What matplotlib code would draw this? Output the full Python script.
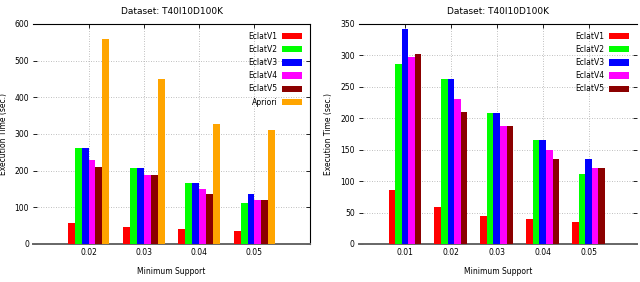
import numpy as np
import matplotlib
matplotlib.use("Agg")
import matplotlib.pyplot as plt

# Datos izquierda (con Apriori)
soporte_izq = ["0.02", "0.03", "0.04", "0.05"]
eclat1_izq = [58, 45, 40, 35]
eclat2_izq = [263, 208, 165, 112]
eclat3_izq = [262, 208, 165, 135]
eclat4_izq = [230, 187, 150, 120]
eclat5_izq = [210, 188, 135, 120]
apriori_izq = [560, 450, 328, 310]

# Datos derecha (solo Eclat)
soporte_der = ["0.01", "0.02", "0.03", "0.04", "0.05"]
eclat1_der = [86, 58, 45, 39, 35]
eclat2_der = [286, 263, 208, 165, 112]
eclat3_der = [342, 262, 208, 165, 135]
eclat4_der = [297, 230, 187, 150, 121]
eclat5_der = [302, 210, 188, 135, 121]

colores = ["#ff0000", "#00ff00", "#0000ff", "#ff00ff", "#8b0000", "#ffa500"]
etiquetas = ["EclatV1", "EclatV2", "EclatV3", "EclatV4", "EclatV5", "Apriori"]

plt.rcParams['font.family'] = 'DejaVu Sans'

fig = plt.figure(figsize=(6.4, 2.82), dpi=100)
ax1 = fig.add_axes([0.052, 0.135, 0.432, 0.78])
ax2 = fig.add_axes([0.561, 0.135, 0.434, 0.78])


def dibujar(ax, soporte, series, ymax, yticks, xmax, ancho, spine_der):
    x = np.arange(1, len(soporte) + 1)
    n = len(series)
    for i, vals in enumerate(series):
        off = (i - (n - 1) / 2) * ancho
        ax.bar(x + off, vals, width=ancho, color=colores[i], label=etiquetas[i],
               zorder=3, linewidth=0)
    ax.set_xlim(0, xmax)
    ax.set_ylim(0, ymax)
    ax.set_xticks(x)
    ax.set_xticklabels(soporte)
    ax.set_yticks(yticks)
    ax.grid(True, linestyle=(0, (1, 2)), color='#aaaaaa', linewidth=0.6, zorder=0)
    ax.tick_params(axis='both', labelsize=5.5, direction='in', length=3, width=0.6,
                   pad=3, colors='black')
    ax.tick_params(axis='y', right=True)
    ax.tick_params(axis='x', top=True, length=3)
    ax.spines['left'].set_visible(False)
    ax.spines['right'].set_visible(spine_der)
    ax.spines['right'].set_linewidth(0.8)
    ax.spines['top'].set_linewidth(0.8)
    ax.spines['bottom'].set_color('#666666')
    ax.spines['bottom'].set_linewidth(1.4)
    ax.set_title("Dataset: T40I10D100K", fontsize=6.5, pad=7)
    ax.set_xlabel("Minimum Support", fontsize=5.5, labelpad=7)
    ax.set_ylabel("Execution Time (sec.)", fontsize=5.5)
    ax.yaxis.set_label_coords(-0.092, 0.5)
    ax.legend(loc='upper right', frameon=False, fontsize=5.5, markerfirst=False,
              handlelength=2.6, handleheight=0.9, labelspacing=0.55,
              borderaxespad=0.6, handletextpad=0.6)


dibujar(ax1, soporte_izq,
        [eclat1_izq, eclat2_izq, eclat3_izq, eclat4_izq, eclat5_izq, apriori_izq],
        600, range(0, 601, 100), 5, 0.125, True)
dibujar(ax2, soporte_der,
        [eclat1_der, eclat2_der, eclat3_der, eclat4_der, eclat5_der],
        350, range(0, 351, 50), 6.05, 0.143, False)

fig.savefig("out.png", dpi=100)
